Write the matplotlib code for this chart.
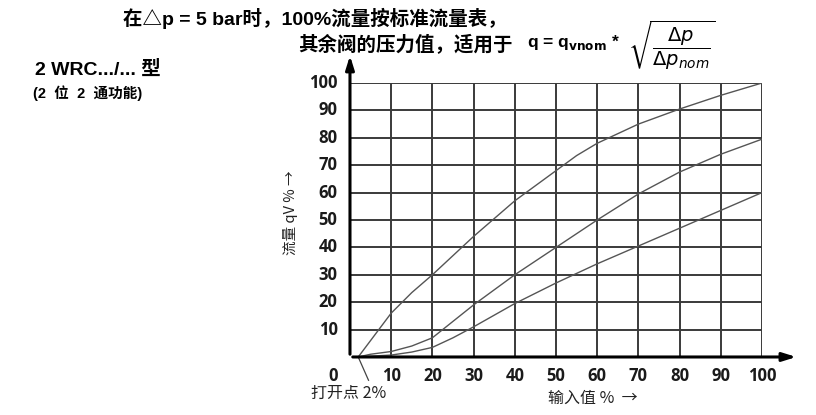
import matplotlib.pyplot as plt

plt.rcParams["font.family"] = ["Liberation Sans", "Noto Sans CJK SC", "DejaVu Sans"]

# input value % (x) and flow % (y) for the three curves
x_top = [2, 3, 5, 10, 15, 20, 30, 40, 50, 55, 60, 70, 80, 90, 100]
y_top = [0, 2, 6, 16, 23.5, 30, 44, 57, 68, 73.5, 78, 85, 90.5, 95.5, 100]

x_mid = [2, 5, 10, 15, 20, 25, 30, 40, 50, 60, 70, 80, 90, 100]
y_mid = [0, 1, 2, 4, 7, 13, 19, 30, 40, 50, 59.5, 67.5, 74, 79.5]

x_low = [2, 5, 10, 15, 20, 25, 30, 40, 50, 60, 70, 80, 90, 100]
y_low = [0, 0.3, 0.7, 1.8, 3.5, 7, 11, 19.5, 27, 34, 40.5, 47, 53.5, 60]

ticks = [10, 20, 30, 40, 50, 60, 70, 80, 90, 100]

W, H = 816, 415


def px(x, y):
    # pixel position -> figure fraction
    return x / W, 1 - y / H


fig = plt.figure(figsize=(8.16, 4.15), dpi=100)
ax = fig.add_axes([0.4289, 0.1398, 0.5049, 0.6602])
ax.set_xlim(0, 100)
ax.set_ylim(0, 100)
for s in ax.spines.values():
    s.set_visible(False)
ax.set_xticks([])
ax.set_yticks([])

grid_c = "#3a3a3a"
for t in ticks:
    ax.plot([t, t], [0, 100], color=grid_c, lw=1.4, zorder=1)
    ax.plot([0, 100], [t, t], color=grid_c, lw=1.4, zorder=1)

curve_c = "#555555"
for xs, ys in [(x_top, y_top), (x_mid, y_mid), (x_low, y_low)]:
    ax.plot(xs, ys, color=curve_c, lw=1.0, zorder=2)

# axes with arrows
ax.annotate("", xy=(109, 0), xytext=(0, 0), annotation_clip=False,
            arrowprops=dict(arrowstyle="-|>,head_length=0.8,head_width=0.25", lw=2.2, color="black"))
ax.annotate("", xy=(0, 111), xytext=(0, 0), annotation_clip=False,
            arrowprops=dict(arrowstyle="-|>,head_length=0.8,head_width=0.25", lw=2.2, color="black"))

tick_kw = dict(fontsize=12, fontweight="bold", color="#1a1a1a", family=["Open Sans"])
for t in ticks:
    ax.text(t, -3.5, str(t), ha="center", va="top", **tick_kw)
    ax.text(-3, t, str(t), ha="right", va="center", **tick_kw)
ax.text(-3, -3.5, "0", ha="right", va="top", **tick_kw)

# opening point leader
ax.plot([2, 4.5], [0, -8.5], color="#444444", lw=0.9, clip_on=False)
ax.text(-9.5, -13.3, "打开点 2%", ha="left", va="center", fontsize=11.5,
        family=["Noto Sans CJK SC"], color="#222222")

ax.text(48, -15, "输入值 %  →", ha="left", va="center", fontsize=11.5,
        family=["Noto Sans CJK SC"], color="#222222")
fig.text(*px(290, 213), "流量 qV % →", rotation=90, ha="center", va="center",
         fontsize=10.5, family=["Noto Sans CJK SC"], color="#222222")

# header
fig.text(*px(123, 18), "在△p = 5 bar时，100%流量按标准流量表，", ha="left", va="center",
         fontsize=14, fontweight="bold", family=["Liberation Sans", "Noto Sans CJK SC"])
fig.text(*px(298, 45), "其余阀的压力值，适用于", ha="left", va="center",
         fontsize=14, fontweight="bold", family=["Noto Sans CJK SC"])
fig.text(*px(527, 43), r"q = q$_{\mathbf{vnom}}$ *", ha="left", va="center",
         fontsize=12.5, fontweight="bold")
fig.text(*px(628, 45), r"$\sqrt{\dfrac{\mathit{\Delta p}}{\mathit{\Delta p_{nom}}}}$",
         ha="left", va="center", fontsize=14)

fig.text(*px(35, 70), "2 WRC.../... 型", ha="left", va="center",
         fontsize=14, fontweight="bold", family=["Liberation Sans", "Noto Sans CJK SC"])
fig.text(*px(33, 93), "(2  位  2  通功能)", ha="left", va="center",
         fontsize=10.5, fontweight="bold", family=["Liberation Sans", "Noto Sans CJK SC"])

fig.savefig("out.png", dpi=100)
